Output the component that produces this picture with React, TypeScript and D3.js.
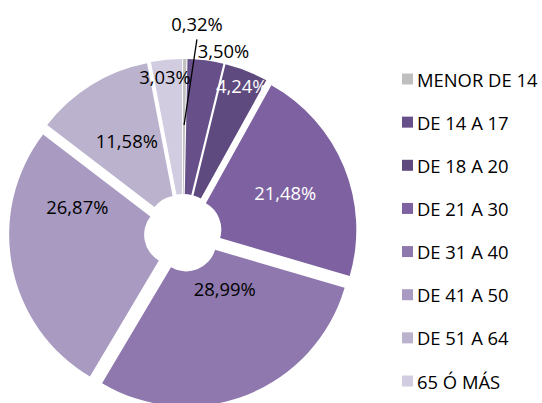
import React from "react";
import * as d3 from "d3";

const categories = [
  "MENOR DE 14",
  "DE 14 A 17",
  "DE 18 A 20",
  "DE 21 A 30",
  "DE 31 A 40",
  "DE 41 A 50",
  "DE 51 A 64",
  "65 Ó MÁS",
];
const values = [0.32, 3.5, 4.24, 21.48, 28.99, 26.87, 11.58, 3.03];
const labels = ["0,32%", "3,50%", "4,24%", "21,48%", "28,99%", "26,87%", "11,58%", "3,03%"];

const colors = ["#BFBFBF", "#674F8A", "#5E4A7E", "#7D61A0", "#8E78AD", "#A89AC0", "#BBB2CD", "#D2CCE0"];
const labelColors = ["#000", "#000", "#fff", "#fff", "#000", "#000", "#000", "#000"];
// label placement: fraction across slice angle, radius from pie center
const labelT = [3.3, 0.9, 0.52, 0.51, 0.35, 0.76, 0.51, 0.4];
const labelR = [210, 187, 159, 110, 69, 109, 108, 158];

const W = 542;
const H = 403;
const cx = 183;
const cy = 233;
const outerR = 165;
const innerR = 30;
const explode = 9;
const FONT = "'Open Sans', sans-serif";
const FS = 18.4;

export default function App() {
  const pie = d3.pie<number>().sort(null).value((d) => d);
  const arcs = pie(values);
  const arc = d3.arc<d3.PieArcDatum<number>>().innerRadius(innerR).outerRadius(outerR);

  const polar = (a: number, r: number) => [Math.sin(a) * r, -Math.cos(a) * r];

  // leader line for first slice
  const a0 = arcs[0];
  const lblA0 = a0.startAngle + labelT[0] * (a0.endAngle - a0.startAngle);
  const [lx0, ly0] = polar(lblA0, labelR[0]);
  const mid0 = (a0.startAngle + a0.endAngle) / 2;
  const [bx0, by0] = polar(mid0, 108);

  const legendY = d3.scaleLinear().domain([0, categories.length - 1]).range([79, 381]);

  return (
    <svg
      width={W}
      height={H}
      style={{ position: "absolute", left: 0, top: 0, display: "block", background: "#fff" }}
    >
      <g transform={`translate(${cx},${cy})`}>
        {arcs.map((a, i) => {
          const mid = (a.startAngle + a.endAngle) / 2;
          const [ox, oy] = polar(mid, explode);
          return (
            <path key={i} d={arc(a) || ""} fill={colors[i]} transform={`translate(${ox},${oy})`} />
          );
        })}
        <line x1={lx0} y1={ly0 + 16} x2={bx0} y2={by0} stroke="#000" strokeWidth={1.3} />
        {arcs.map((a, i) => {
          const ang = a.startAngle + labelT[i] * (a.endAngle - a.startAngle);
          const [x, y] = polar(ang, labelR[i]);
          return (
            <text
              key={i}
              x={x}
              y={y}
              textAnchor="middle"
              dominantBaseline="central"
              fontFamily={FONT}
              fontSize={FS}
              fill={labelColors[i]}
            >
              {labels[i]}
            </text>
          );
        })}
      </g>
      <g>
        {categories.map((c, i) => (
          <g key={i} transform={`translate(402,${legendY(i)})`}>
            <rect x={0} y={-5.5} width={11} height={11} fill={colors[i]} />
            <text x={15} y={0} dominantBaseline="central" fontFamily={FONT} fontSize={FS} fill="#000">
              {c}
            </text>
          </g>
        ))}
      </g>
    </svg>
  );
}
